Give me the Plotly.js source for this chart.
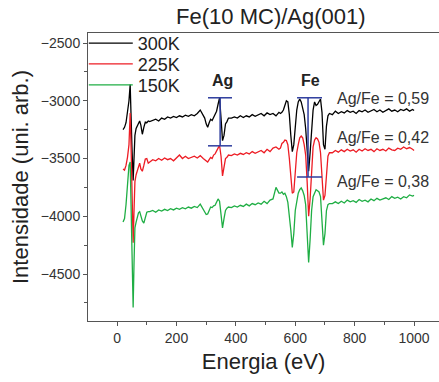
<!DOCTYPE html>
<html>
<head>
<meta charset="utf-8">
<script src="https://cdn.plot.ly/plotly-3.0.1.min.js"></script>
<style>html,body{margin:0;padding:0;background:#fff;}#chart{width:439px;height:382px;}</style>
</head>
<body>
<div id="chart"></div>
<script>
// Energy grid (eV)
var energy = [
  20, 25, 30, 35, 40, 44, 47, 50, 54, 57, 60, 64, 68, 72, 76, 80, 85, 90, 95, 100, 105,
  110, 120, 130, 140, 150, 160, 170, 180, 190, 200, 210, 220, 230, 240, 250, 260, 270, 280, 290,
  295, 300, 305, 310, 315, 320, 325, 330, 335, 340, 345, 350, 355, 360, 365, 370, 375,
  385, 395, 405, 415, 425, 435, 445, 455, 465, 475, 485, 495, 505, 515, 525, 535, 545,
  550, 555, 560, 565, 570, 575, 580, 585, 590, 595, 600, 605, 610, 615, 620, 625, 630, 635, 640, 645,
  650, 655, 660, 665, 670, 675, 680, 685, 690, 695, 700, 705, 710, 715,
  725, 735, 745, 755, 765, 775, 785, 795, 805, 815, 825, 835, 845, 855, 865, 875, 885, 895,
  905, 915, 925, 935, 945, 955, 965, 975, 985, 995, 1000
];

var s300K = [
  -3250, -3230, -3190, -3110, -3000, -2860, -3050, -3400, -3690, -3500, -3300, -3240, -3220, -3190, -3175, -3210, -3290, -3230, -3185, -3190, -3175,
  -3180, -3170, -3160, -3175, -3150, -3160, -3140, -3150, -3135, -3145, -3130, -3140, -3125, -3135, -3120, -3130, -3110, -3080, -3130,
  -3150, -3200, -3230, -3190, -3160, -3170, -3140, -3120, -3090, -3030, -2975, -3150, -3345, -3300, -3200, -3180, -3150,
  -3150, -3140, -3150, -3130, -3145, -3130, -3140, -3120, -3135, -3125, -3110, -3130, -3105, -3120, -3110, -3130, -3100,
  -3110, -3100, -3080, -3040, -3000, -3010, -3120, -3300, -3440, -3380, -3200, -3080, -3010, -2985, -3010, -3060, -3120, -3240, -3400, -3610,
  -3450, -3270, -3080, -3010, -3040, -3030, -3000, -2985, -3100, -3380, -3420, -3220, -3130, -3110,
  -3120, -3090, -3110, -3095, -3105, -3085, -3100, -3090, -3110, -3085, -3095, -3080, -3100, -3090, -3075, -3095, -3080, -3100,
  -3085, -3070, -3090, -3080, -3095, -3075, -3085, -3070, -3090, -3075, -3085
];

var s225K = [
  -3590, -3600, -3560, -3490, -3380, -3105, -3400, -3850, -4230, -3950, -3700, -3640, -3600, -3560, -3540, -3590, -3610, -3560, -3505, -3500, -3540,
  -3530, -3510, -3520, -3500, -3515, -3495, -3510, -3500, -3520, -3490, -3470, -3500, -3480, -3500, -3490, -3480, -3495, -3475, -3500,
  -3510, -3525, -3530, -3510, -3490, -3500, -3470, -3460, -3440, -3410, -3385, -3480, -3650, -3580, -3500, -3490, -3470,
  -3475, -3460, -3470, -3455, -3465, -3450, -3460, -3440, -3455, -3445, -3430, -3450, -3420, -3440, -3410, -3400, -3420,
  -3410, -3370, -3360, -3340, -3345, -3380, -3500, -3650, -3800, -3790, -3600, -3450, -3380, -3320, -3305, -3320, -3380, -3470, -3700, -4000,
  -3850, -3580, -3400, -3340, -3320, -3330, -3360, -3450, -3650, -3860, -3820, -3600, -3480, -3450,
  -3450, -3430, -3445, -3425, -3440, -3420, -3435, -3425, -3445, -3420, -3435, -3415, -3430, -3420, -3440, -3415, -3430, -3420,
  -3435, -3410, -3425, -3430, -3410, -3420, -3400, -3415, -3405, -3420, -3430
];

var s150K = [
  -4050, -4020, -3900, -3700, -3560, -3530, -4000, -4500, -4790, -4400, -4100, -4050, -4000, -3970, -3960, -4000, -4040, -4060, -4000, -3965, -3960,
  -3960, -3950, -3965, -3945, -3955, -3940, -3950, -3935, -3945, -3930, -3940, -3925, -3935, -3920, -3930, -3915, -3925, -3895, -3940,
  -3960, -3985, -3980, -3950, -3920, -3925, -3910, -3905, -3880, -3850, -3870, -3990, -4100, -4020, -3950, -3930, -3920,
  -3925, -3910, -3920, -3905, -3915, -3895, -3910, -3890, -3900, -3885, -3895, -3870, -3890, -3860, -3850, -3750, -3800,
  -3800, -3790, -3810, -3800, -3830, -3880, -3980, -4120, -4270, -4150, -3950, -3860, -3800, -3770, -3755, -3780, -3820, -3900, -4150, -4400,
  -4200, -3950, -3830, -3790, -3770, -3780, -3790, -3830, -4000, -4250, -4150, -3950, -3900, -3890,
  -3890, -3875, -3890, -3870, -3885, -3860, -3875, -3865, -3880, -3855, -3870, -3860, -3875, -3850, -3865, -3845, -3860, -3850,
  -3840, -3855, -3830, -3845, -3835, -3850, -3830, -3840, -3815, -3825, -3820
];

var seriesNames = ['300K', '225K', '150K'];
var seriesColors = ['#000000', '#ed1c24', '#1fae44'];

// Peak-to-peak marker bars (data coordinates)
var agBarX = [306, 387];      // horizontal extent of Ag bars
var agBarMid = 347;           // vertical Ag bar position
var agBarY = [-2974, -3390];  // top, bottom
var feBarX = [606, 690];
var feBarMid = 643;
var feBarY = [-2974, -3660];
var barColor = '#2e3d9e';

// Text labels
var peakLabels = [{t: '<b>Ag</b>', x: 354, y: -2820}, {t: '<b>Fe</b>', x: 650, y: -2820}];
var ratioLabels = [
  {t: 'Ag/Fe = 0,59', x: 734, y: -2983},
  {t: 'Ag/Fe = 0,42', x: 734, y: -3316},
  {t: 'Ag/Fe = 0,38', x: 734, y: -3702}
];

var legendIds = ['legend', 'legend2', 'legend3'];
var legendY = [1.028, 0.956, 0.883];

var allSeries = [s300K, s225K, s150K];
var traces = allSeries.map(function (ys, i) {
  return {
    x: energy, y: ys, type: 'scatter', mode: 'lines', name: seriesNames[i],
    legend: legendIds[i],
    line: {color: seriesColors[i], width: 1.3}
  };
});

var lineStyle = {color: barColor, width: 1.5};
var shapes = [
  {type: 'line', xref: 'x', yref: 'y', x0: agBarX[0], x1: agBarX[1], y0: agBarY[0], y1: agBarY[0], line: lineStyle},
  {type: 'line', xref: 'x', yref: 'y', x0: agBarX[0], x1: agBarX[1], y0: agBarY[1], y1: agBarY[1], line: lineStyle},
  {type: 'line', xref: 'x', yref: 'y', x0: agBarMid, x1: agBarMid, y0: agBarY[0], y1: agBarY[1], line: lineStyle},
  {type: 'line', xref: 'x', yref: 'y', x0: feBarX[0], x1: feBarX[1], y0: feBarY[0], y1: feBarY[0], line: lineStyle},
  {type: 'line', xref: 'x', yref: 'y', x0: feBarX[0], x1: feBarX[1], y0: feBarY[1], y1: feBarY[1], line: lineStyle},
  {type: 'line', xref: 'x', yref: 'y', x0: feBarMid, x1: feBarMid, y0: feBarY[0], y1: feBarY[1], line: lineStyle}
];

var font = 'Liberation Sans, Arial, Helvetica, sans-serif';
var annotations = [];
peakLabels.forEach(function (a) {
  annotations.push({x: a.x, y: a.y, xref: 'x', yref: 'y', text: a.t, showarrow: false,
    font: {family: font, size: 16, color: '#222'}, xanchor: 'center', yanchor: 'middle'});
});
ratioLabels.forEach(function (a) {
  annotations.push({x: a.x, y: a.y, xref: 'x', yref: 'y', text: a.t, showarrow: false,
    font: {family: font, size: 16, color: '#333'}, xanchor: 'left', yanchor: 'middle'});
});

var layout = {
  width: 439, height: 382,
  margin: {l: 88, r: 0, t: 33, b: 61},
  paper_bgcolor: '#fff', plot_bgcolor: '#fff',
  font: {family: font, color: '#333'},
  title: {text: 'Fe(10 MC)/Ag(001)', font: {family: font, size: 22, color: '#222'},
    x: 0.617, xanchor: 'center', y: 0.958, yanchor: 'middle', yref: 'container'},
  showlegend: true,
  xaxis: {
    range: [-98, 1084], showgrid: false, zeroline: false,
    showline: true, linecolor: '#555', linewidth: 1, mirror: true,
    ticks: 'outside', ticklen: 4, tickcolor: '#555', tickwidth: 1,
    tick0: 0, dtick: 200,
    minor: {dtick: 100, ticks: 'outside', ticklen: 3, tickcolor: '#555'},
    tickfont: {family: font, size: 14, color: '#333'},
    title: {text: 'Energia (eV)', font: {family: font, size: 22, color: '#222'}, standoff: 8}
  },
  yaxis: {
    range: [-4907, -2413], showgrid: false, zeroline: false,
    showline: true, linecolor: '#555', linewidth: 1, mirror: false,
    ticks: 'outside', ticklen: 4, tickcolor: '#555', tickwidth: 1,
    tick0: -2500, dtick: 500,
    minor: {dtick: 250, ticks: 'outside', ticklen: 3, tickcolor: '#555'},
    tickfont: {family: font, size: 14, color: '#333'},
    title: {text: 'Intensidade (uni. arb.)', font: {family: font, size: 22, color: '#222'}, standoff: 6}
  },
  shapes: shapes,
  annotations: annotations
};

legendIds.forEach(function (id, i) {
  layout[id] = {x: -0.012, y: legendY[i], xanchor: 'left', yanchor: 'top', bgcolor: 'rgba(0,0,0,0)',
    font: {family: font, size: 18, color: '#222'}, itemwidth: 44};
});

Plotly.newPlot('chart', traces, layout, {displayModeBar: false, staticPlot: true});
</script>
</body>
</html>
